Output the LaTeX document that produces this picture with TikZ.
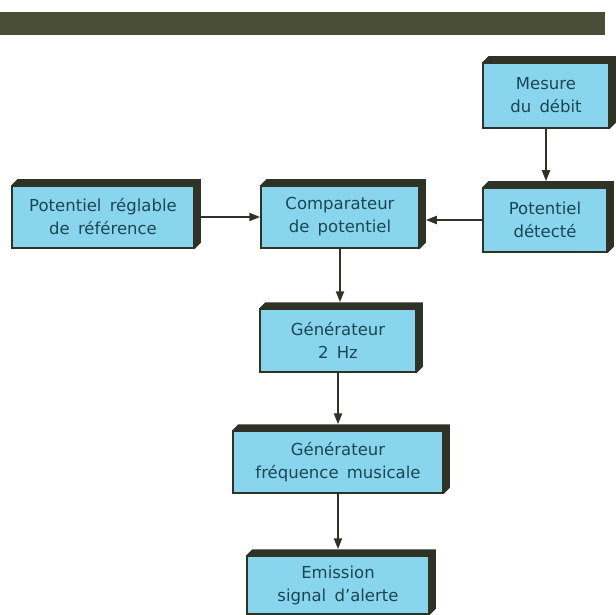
\documentclass[tikz,border=0pt]{standalone}
\usepackage{fontspec}
\setmainfont{DejaVu Sans}
\usetikzlibrary{arrows.meta,positioning}
\definecolor{BarOlive}{HTML}{4A4E36}
\definecolor{BoxCyan}{HTML}{8AD5EE}
\definecolor{EdgeDark}{HTML}{2F3325}
\definecolor{InkTeal}{HTML}{1A4653}
\newcommand\boxfont{\fontsize{16.5}{23}\selectfont\spaceskip=0.5em\relax}

\begin{document}
\begin{tikzpicture}[x=1pt,y=-1pt,
    box/.style={draw=EdgeDark,line width=1.5pt,fill=BoxCyan,text=InkTeal,
                align=center,inner sep=0pt,minimum height=62pt,font=\boxfont},
    arr/.style={-{Triangle[length=11pt,width=8pt]},line width=2.2pt,EdgeDark}]
    \useasboundingbox (0,0) rectangle (616,615);
    \fill[BarOlive] (0,12) rectangle (605,35);
    \node[box,minimum width=126pt,minimum height=65pt] (debit) at (546,95.5) {Mesure\\du débit};
    \node[box,minimum width=124pt,minimum height=64pt] (detecte) at (545,220) {Potentiel\\détecté};
    \node[box,minimum width=158pt] (comp) at (340,217) {Comparateur\\de potentiel};
    \node[box,minimum width=182pt] (reglable) at (103,217) {Potentiel réglable\\de référence};
    \node[box,minimum width=156pt,minimum height=63pt] (gen2) at (338,340.5) {Générateur\\2 Hz};
    \node[box,minimum width=210pt] (genmus) at (338,462) {Générateur\\fréquence musicale};
    \node[box,minimum width=182pt,minimum height=58pt] (alerte) at (338,585) {Emission\\signal d'alerte};
    % relief on top and right side
    \foreach \n in {debit,detecte,comp,reglable,gen2,genmus,alerte}
      \fill[EdgeDark] (\n.north west) -- ([shift={(6pt,6pt)}]\n.north west)
        -- ([shift={(6pt,6pt)}]\n.north east) -- ([shift={(6pt,6pt)}]\n.south east)
        -- (\n.south east) -- (\n.north east) -- cycle;
    \draw[arr] (reglable) -- (comp);
    \draw[arr] (detecte.west) -- ([xshift=6pt]detecte.west -| comp.east);
    \draw[arr] (debit.south) -- ([yshift=6pt]debit.south |- detecte.north);
    \draw[arr] (comp.south) -- ([yshift=6pt]comp.south |- gen2.north);
    \draw[arr] (gen2) -- ([yshift=6pt]genmus.north);
    \draw[arr] (genmus) -- ([yshift=6pt]alerte.north);
  \end{tikzpicture}
\end{document}
